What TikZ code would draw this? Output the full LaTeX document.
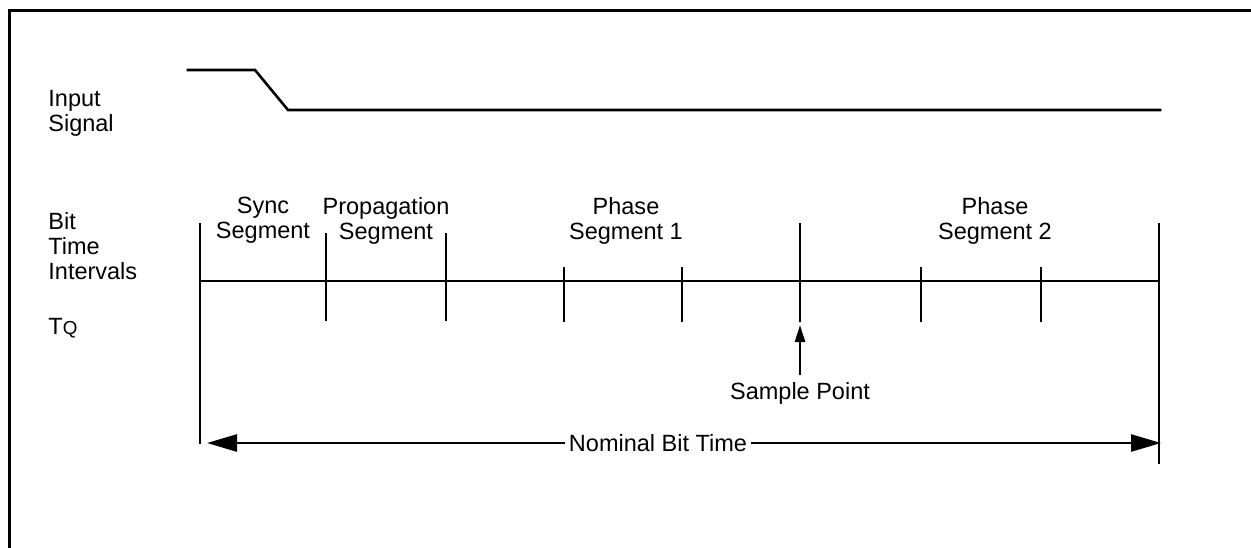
\documentclass[tikz,border=0pt]{standalone}
\usepackage{fontspec}
\setmainfont{Liberation Sans}
\usetikzlibrary{arrows.meta}
\usepackage{tkz-euclide}

\tikzset{lbl/.style={inner sep=0pt,font=\fontsize{11.75}{12.5}\selectfont,align=center,anchor=north},
  side/.style={lbl,align=left,anchor=north west},
  wire/.style={line width=1.3pt,line cap=rect},
  bigtip/.style={-{Triangle[length=15pt,width=8.5pt]},line width=1.3pt},
  smalltip/.style={-{Triangle[length=8.5pt,width=5pt]},line width=1.3pt}}

\begin{document}
\begin{tikzpicture}[x=0.5pt,y=-0.5pt]
\useasboundingbox (0,0) rectangle (1251,547);

% frame
\tkzDefPoints{9/547/F0,9/10/F1,1251/10/F2}
\draw[wire,line width=1.5pt] (F0) -- (F1) -- (F2);

% input signal
\tkzDefPoints{188/70/S0,255/70/S1,288/110/S2,1160/110/S3}
\draw[wire] (S0) -- (S1) -- (S2) -- (S3);

% time line and ticks
\tkzDefPoints{200/281/L0,1159/281/L1,200/224/E0,200/443/E1,1159/224/R0,1159/463/R1}
\tkzDefPoints{326/234/A0,326/320/A1,446/234/B0,446/320/B1,800/224/P0,800/321/P1}
\tkzDefPoints{564/268/C0,564/321/C1,682/268/D0,682/321/D1,921/268/G0,921/321/G1,1041/268/H0,1041/321/H1}
\draw[wire] (L0) -- (L1) (E0) -- (E1) (R0) -- (R1) (A0) -- (A1) (B0) -- (B1) (P0) -- (P1)
  (C0) -- (C1) (D0) -- (D1) (G0) -- (G1) (H0) -- (H1);

\node[side] (input) at (48,90) {Input\\Signal};
\node[side] (bit) at (48,212) {Bit\\Time\\Intervals};
\node[side] (tq) at (48,318) {T{\fontsize{9.4}{9.4}\selectfont Q}};

\node[lbl] (sync) at (263,197) {Sync\\Segment};
\node[lbl] (prop) at (386,197) {Propagation\\Segment};
\node[lbl] (ph1) at (626,197) {Phase\\Segment 1};
\node[lbl] (ph2) at (995,197) {Phase\\Segment 2};

% sample point
\node[lbl] (smp) at (800,382) {Sample Point};
\coordinate (spt) at (800,325);
\draw[smalltip,shorten <=3.5pt] (smp.north) -- (spt);

% nominal bit time
\node[lbl,anchor=center,fill=white,inner xsep=2pt] (nbt) at (658,443) {Nominal Bit Time};
\coordinate (nbl) at (207,443);
\coordinate (nbr) at (1161,443);
\draw[bigtip] (nbt.west) -- (nbl);
\draw[bigtip] (nbt.east) -- (nbr);

\end{tikzpicture}
\end{document}
